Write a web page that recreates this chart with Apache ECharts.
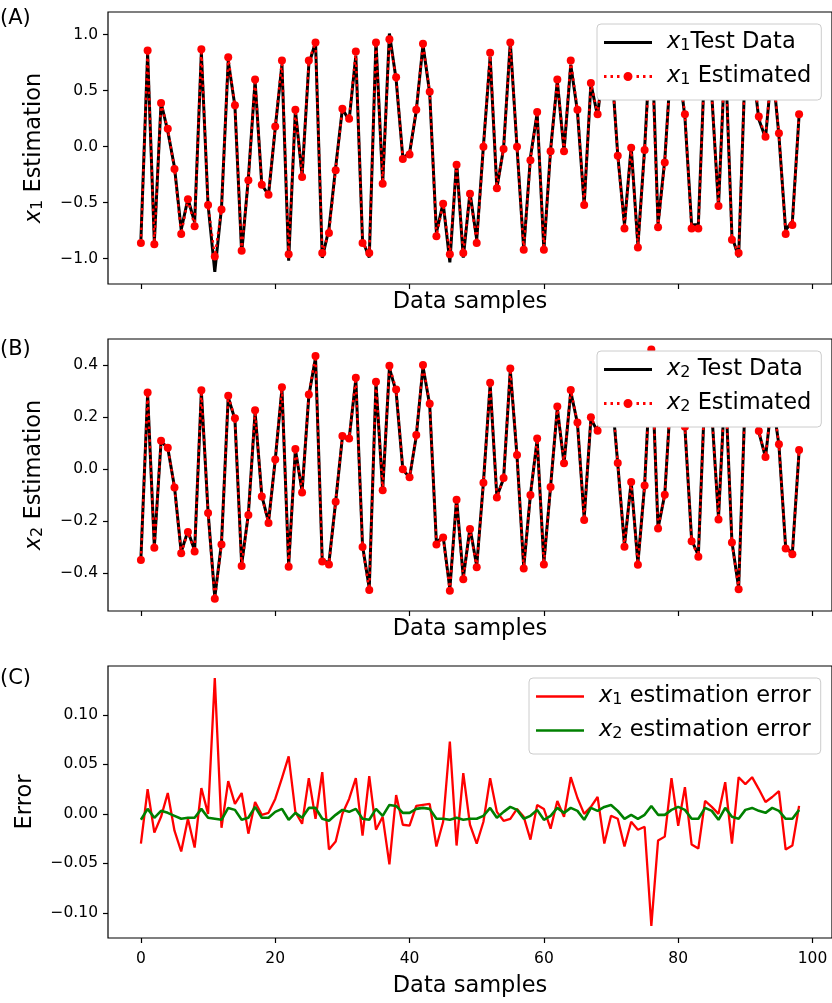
<!DOCTYPE html>
<html>
<head>
<meta charset="utf-8">
<script src="https://cdn.jsdelivr.net/npm/echarts@6/dist/echarts.min.js"></script>
<style>
html, body { margin: 0; padding: 0; background: #fff; }
#chart { width: 832px; height: 1003px; }
</style>
</head>
<body>
<div id="chart"></div>
<script>
// (A) x1: estimated values (red dots) and test data (black line)
const x1Est = [
  -0.86, 0.86, -0.87, 0.39, 0.16, -0.20, -0.78, -0.47, -0.71, 0.87,
  -0.52, -0.98, -0.56, 0.80, 0.37, -0.93, -0.30, 0.60, -0.34, -0.43,
  0.18, 0.77, -0.96, 0.33, -0.27, 0.77, 0.93, -0.95, -0.77, -0.21,
  0.34, 0.25, 0.85, -0.86, -0.95, 0.93, -0.33, 0.96, 0.62, -0.11,
  -0.07, 0.33, 0.92, 0.49, -0.80, -0.51, -0.96, -0.16, -0.95, -0.42,
  -0.86, 0.00, 0.84, -0.37, -0.02, 0.93, 0.00, -0.92, -0.12, 0.31,
  -0.92, -0.04, 0.60, -0.04, 0.77, 0.33, -0.52, 0.57, 0.29, 0.80,
  0.80, -0.08, -0.73, -0.01, -0.90, -0.03, 0.98, -0.72, -0.14, 0.85,
  0.75, 0.29, -0.73, -0.73, 0.85, 0.47, -0.53, 0.88, -0.83, -0.95,
  0.80, 0.80, 0.27, 0.09, 0.75, 0.12, -0.78, -0.70, 0.29
];
const x1Test = [
  -0.830, 0.835, -0.851, 0.393, 0.139, -0.183, -0.742, -0.465, -0.676, 0.844,
  -0.520, -1.117, -0.546, 0.767, 0.360, -0.951, -0.280, 0.588, -0.339, -0.431,
  0.165, 0.734, -1.018, 0.328, -0.260, 0.734, 0.935, -0.992, -0.734, -0.182,
  0.340, 0.235, 0.814, -0.838, -0.988, 0.946, -0.327, 1.011, 0.601, -0.099,
  -0.058, 0.322, 0.911, 0.480, -0.767, -0.502, -1.033, -0.128, -0.991, -0.409,
  -0.830, 0.008, 0.804, -0.372, -0.013, 0.935, -0.005, -0.917, -0.094, 0.301,
  -0.925, -0.025, 0.587, -0.037, 0.733, 0.314, -0.520, 0.563, 0.273, 0.830,
  0.802, -0.075, -0.697, -0.002, -0.884, -0.017, 1.093, -0.693, -0.117, 0.814,
  0.762, 0.263, -0.699, -0.695, 0.837, 0.463, -0.530, 0.848, -0.800, -0.987,
  0.770, 0.763, 0.245, 0.078, 0.733, 0.097, -0.744, -0.668, 0.282
];

// (B) x2: estimated values and test data
const x2Est = [
  -0.350, 0.294, -0.303, 0.109, 0.082, -0.071, -0.324, -0.242, -0.317, 0.303,
  -0.169, -0.499, -0.290, 0.282, 0.195, -0.373, -0.177, 0.226, -0.106, -0.208,
  0.037, 0.314, -0.376, 0.077, -0.090, 0.287, 0.435, -0.356, -0.367, -0.126,
  0.127, 0.117, 0.351, -0.300, -0.465, 0.336, -0.082, 0.397, 0.306, -0.001,
  -0.032, 0.131, 0.400, 0.251, -0.290, -0.263, -0.468, -0.118, -0.424, -0.231,
  -0.378, -0.053, 0.332, -0.110, -0.035, 0.387, 0.054, -0.383, -0.100, 0.117,
  -0.367, -0.069, 0.240, 0.022, 0.304, 0.179, -0.196, 0.199, 0.147, 0.320,
  0.330, 0.023, -0.299, -0.050, -0.368, -0.063, 0.460, -0.229, -0.099, 0.330,
  0.300, 0.163, -0.278, -0.337, 0.320, 0.220, -0.194, 0.340, -0.283, -0.462,
  0.300, 0.310, 0.146, 0.046, 0.280, 0.095, -0.306, -0.328, 0.073
];
const x2Test = [
  -0.344, 0.289, -0.299, 0.106, 0.081, -0.069, -0.319, -0.238, -0.313, 0.298,
  -0.165, -0.494, -0.284, 0.276, 0.191, -0.367, -0.173, 0.219, -0.102, -0.204,
  0.035, 0.309, -0.370, 0.076, -0.086, 0.281, 0.429, -0.351, -0.360, -0.125,
  0.123, 0.115, 0.346, -0.295, -0.459, 0.331, -0.080, 0.388, 0.298, -0.002,
  -0.033, 0.126, 0.394, 0.246, -0.285, -0.258, -0.462, -0.114, -0.418, -0.226,
  -0.373, -0.051, 0.326, -0.106, -0.037, 0.380, 0.050, -0.378, -0.098, 0.113,
  -0.361, -0.067, 0.234, 0.021, 0.298, 0.176, -0.190, 0.193, 0.144, 0.313,
  0.321, 0.020, -0.294, -0.049, -0.363, -0.062, 0.452, -0.228, -0.098, 0.326,
  0.293, 0.159, -0.273, -0.332, 0.314, 0.217, -0.188, 0.334, -0.280, -0.457,
  0.296, 0.304, 0.143, 0.045, 0.274, 0.092, -0.301, -0.323, 0.069
];

// (C) estimation errors
const x1Err = [
  -0.030, 0.025, -0.019, -0.003, 0.021, -0.017, -0.038, -0.005, -0.034, 0.026,
  0.000, 0.137, -0.014, 0.033, 0.010, 0.021, -0.020, 0.012, -0.001, 0.001,
  0.015, 0.036, 0.058, 0.002, -0.010, 0.036, -0.005, 0.042, -0.036, -0.028,
  0.000, 0.015, 0.036, -0.022, 0.038, -0.016, -0.003, -0.051, 0.019, -0.011,
  -0.012, 0.008, 0.009, 0.010, -0.033, -0.008, 0.073, -0.032, 0.041, -0.011,
  -0.030, -0.008, 0.036, 0.002, -0.007, -0.005, 0.005, -0.003, -0.026, 0.009,
  0.005, -0.015, 0.013, -0.003, 0.037, 0.016, 0.000, 0.007, 0.017, -0.030,
  -0.002, -0.005, -0.033, -0.008, -0.016, -0.013, -0.113, -0.027, -0.023, 0.036,
  -0.012, 0.027, -0.031, -0.035, 0.013, 0.007, 0.000, 0.032, -0.030, 0.037,
  0.030, 0.037, 0.025, 0.012, 0.017, 0.023, -0.036, -0.032, 0.008
];
const x2Err = [
  -0.006, 0.005, -0.004, 0.003, 0.001, -0.002, -0.005, -0.004, -0.004, 0.005,
  -0.004, -0.005, -0.006, 0.006, 0.004, -0.006, -0.004, 0.007, -0.004, -0.004,
  0.002, 0.005, -0.006, 0.001, -0.004, 0.006, 0.006, -0.005, -0.007, -0.001,
  0.004, 0.002, 0.005, -0.005, -0.006, 0.005, -0.002, 0.009, 0.008, 0.001,
  0.001, 0.005, 0.006, 0.005, -0.005, -0.005, -0.006, -0.004, -0.006, -0.005,
  -0.005, -0.002, 0.006, -0.004, 0.002, 0.007, 0.004, -0.005, -0.002, 0.004,
  -0.006, -0.002, 0.006, 0.001, 0.006, 0.003, -0.006, 0.006, 0.003, 0.007,
  0.009, 0.003, -0.005, -0.001, -0.005, -0.001, 0.008, -0.001, -0.001, 0.004,
  0.007, 0.004, -0.005, -0.005, 0.006, 0.003, -0.006, 0.006, -0.003, -0.005,
  0.004, 0.006, 0.003, 0.001, 0.006, 0.003, -0.005, -0.005, 0.004
];

const xTicks = [0, 20, 40, 60, 80, 100];
const yTicksA = [-1.0, -0.5, 0.0, 0.5, 1.0];
const yTicksB = [-0.4, -0.2, 0.0, 0.2, 0.4];
const yTicksC = [-0.10, -0.05, 0.00, 0.05, 0.10];

const FONT = 'DejaVu Sans';
const pairs = arr => arr.map((v, i) => [i, v]);
const fmt = d => v => (v < 0 ? '\u2212' : '') + Math.abs(v).toFixed(d);

const richSub = (size, pad) => ({
  i: { fontStyle: 'italic', fontSize: size, fontFamily: FONT, color: '#000', padding: [0, 0, 0, pad] },
  s: { fontSize: Math.round(size * 0.7), fontFamily: FONT, color: '#000', verticalAlign: 'bottom', lineHeight: 10 },
  t: { fontSize: size, fontFamily: FONT, color: '#000' }
});

const grids = [
  { left: 108, top: 12, width: 724, height: 272 },
  { left: 108, top: 339, width: 724, height: 272 },
  { left: 108, top: 666, width: 724, height: 272 }
].map(g => Object.assign(g, { show: true, borderColor: '#000', borderWidth: 1.2, backgroundColor: '#fff', containLabel: false, outerBoundsMode: 'none' }));

function xAxis(idx) {
  return {
    gridIndex: idx, type: 'value', min: -4.9, max: 102.9, position: 'bottom',
    axisLine: { show: false, onZero: false }, splitLine: { show: false },
    axisTick: { show: true, inside: false, length: 5, lineStyle: { color: '#000', width: 1.2 }, customValues: xTicks },
    axisLabel: { show: idx === 2, customValues: xTicks, color: '#000', fontSize: 15.5, fontFamily: FONT, margin: 13 },
    name: 'Data samples', nameLocation: 'middle', nameGap: idx === 2 ? 37 : 7,
    nameTextStyle: { fontSize: 22.5, color: '#000', fontFamily: FONT }
  };
}

function yAxis(idx, min, max, ticks, dec, name, gap) {
  return {
    gridIndex: idx, type: 'value', min: min, max: max, position: 'left',
    axisLine: { show: false, onZero: false }, splitLine: { show: false },
    axisTick: { show: true, inside: false, length: 5, lineStyle: { color: '#000', width: 1.2 }, customValues: ticks },
    axisLabel: { customValues: ticks, formatter: fmt(dec), color: '#000', fontSize: 15.5, fontFamily: FONT, margin: 10 },
    name: name, nameLocation: 'middle', nameRotate: 90, nameGap: gap,
    nameTextStyle: { fontSize: 22.5, color: '#000', fontFamily: FONT, rich: richSub(22.5, 0) }
  };
}

const solidIcon = 'path://M0,0H48V3H0Z';
const thinIcon = 'path://M0,0H48V2.6H0Z';
const dotIcon = 'path://M0,3h2.5v3h-2.5z M6.5,3h2.5v3h-2.5z M13,3h2.5v3h-2.5z ' +
  'M32.5,3h2.5v3h-2.5z M39,3h2.5v3h-2.5z M45.5,3h2.5v3h-2.5z ' +
  'M19.5,4.5a4.5,4.5 0 1,0 9,0a4.5,4.5 0 1,0 -9,0z';

const legendLabels = {
  'x1 test': '{i|x}{s|1}{t|Test Data}',
  'x1 est': '{i|x}{s|1}{t| Estimated}',
  'x2 test': '{i|x}{s|2}{t| Test Data}',
  'x2 est': '{i|x}{s|2}{t| Estimated}',
  'x1 err': '{i|x}{s|1}{t| estimation error}',
  'x2 err': '{i|x}{s|2}{t| estimation error}'
};

function legend(top, left, items) {
  return {
    top: top, left: left, orient: 'vertical',
    itemWidth: 48, itemHeight: 10, itemGap: 11,
    padding: [7, 10, 12, 7],
    backgroundColor: '#fff', borderColor: '#cccccc', borderWidth: 1, borderRadius: 4,
    selectedMode: false,
    itemStyle: { borderWidth: 0 },
    data: items,
    formatter: n => legendLabels[n],
    textStyle: { fontSize: 22.5, color: '#000', fontFamily: FONT, rich: richSub(22.5, 10) }
  };
}

const estLine = (name, data, xi) => ({
  name: name, type: 'line', xAxisIndex: xi, yAxisIndex: xi, data: pairs(data),
  symbol: 'circle', symbolSize: 8, showSymbol: true,
  itemStyle: { color: '#ff0000', borderWidth: 0 },
  lineStyle: { color: '#ff0000', width: 2.5, type: [2.5, 4] },
  z: 3
});
const plainLine = (name, data, xi, color, width) => ({
  name: name, type: 'line', xAxisIndex: xi, yAxisIndex: xi, data: pairs(data),
  symbol: 'none', itemStyle: { color: color },
  lineStyle: { color: color, width: width }
});

const option = {
  animation: false,
  backgroundColor: '#fff',
  grid: grids,
  xAxis: [xAxis(0), xAxis(1), xAxis(2)],
  yAxis: [
    yAxis(0, -1.226, 1.203, yTicksA, 1, '{i|x}{s|1}{t| Estimation}', 62),
    yAxis(1, -0.546, 0.5, yTicksB, 1, '{i|x}{s|2}{t| Estimation}', 62),
    yAxis(2, -0.1253, 0.1492, yTicksC, 2, 'Error', 71)
  ],
  legend: [
    legend(24, 597, [{ name: 'x1 test', icon: solidIcon }, { name: 'x1 est', icon: dotIcon }]),
    legend(351, 597, [{ name: 'x2 test', icon: solidIcon }, { name: 'x2 est', icon: dotIcon }]),
    legend(678, 529, [{ name: 'x1 err', icon: thinIcon }, { name: 'x2 err', icon: thinIcon }])
  ],
  graphic: [
    { type: 'text', left: 0, top: 8, style: { text: '(A)', fontSize: 21, fontFamily: FONT, fill: '#000' } },
    { type: 'text', left: 0, top: 339, style: { text: '(B)', fontSize: 21, fontFamily: FONT, fill: '#000' } },
    { type: 'text', left: 0, top: 668, style: { text: '(C)', fontSize: 21, fontFamily: FONT, fill: '#000' } }
  ],
  series: [
    plainLine('x1 test', x1Test, 0, '#000000', 3),
    estLine('x1 est', x1Est, 0),
    plainLine('x2 test', x2Test, 1, '#000000', 3),
    estLine('x2 est', x2Est, 1),
    plainLine('x1 err', x1Err, 2, '#ff0000', 2.3),
    plainLine('x2 err', x2Err, 2, '#008000', 2.6)
  ]
};

const chart = echarts.init(document.getElementById('chart'));
chart.setOption(option);
window.addEventListener('resize', () => chart.resize());
</script>
</body>
</html>
